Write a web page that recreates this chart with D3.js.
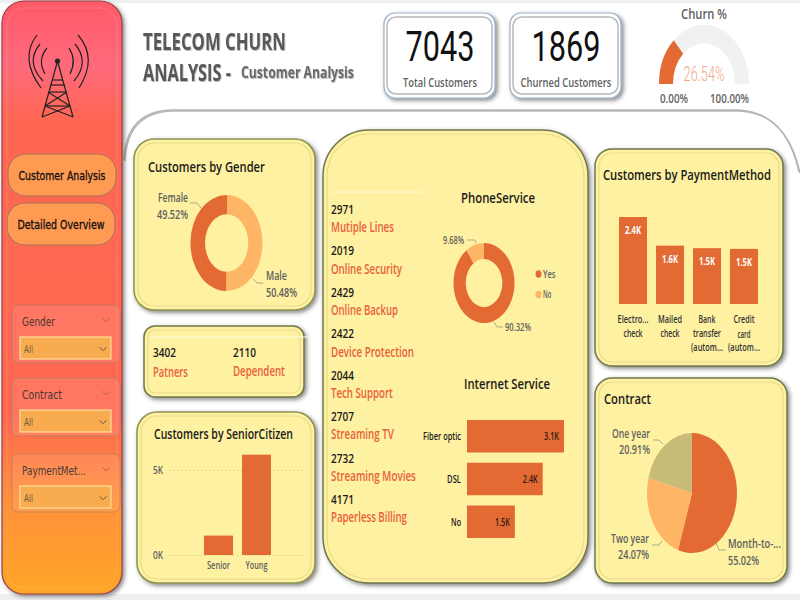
<!DOCTYPE html>
<html>
<head>
<meta charset="utf-8">
<script src="https://cdn.jsdelivr.net/npm/d3@7"></script>
<style>
    html, body { margin: 0; padding: 0; background: #fff; }
    svg { display: block; }
    text { font-family: "Open Sans", "Noto Sans", sans-serif; }
</style>
</head>
<body>
<div id="chart"></div>
<script>
// chart values
var genderNames = ["Male", "Female"];
var genderShare = [50.48, 49.52];

var seniorNames = ["Senior", "Young"];
var seniorCounts = [1142, 5901];
var seniorTicks = [0, 5000];

var serviceNames = ["Mutiple Lines", "Online Security", "Online Backup", "Device Protection", "Tech Support", "Streaming TV", "Streaming Movies", "Paperless Billing"];
var serviceCounts = [2971, 2019, 2429, 2422, 2044, 2707, 2732, 4171];

var phoneNames = ["Yes", "No"];
var phoneShare = [90.32, 9.68];

var internetNames = ["Fiber optic", "DSL", "No"];
var internetCounts = [3100, 2420, 1530];

var paymentLabels = [["Electro...", "check"], ["Mailed", "check"], ["Bank", "transfer", "(autom..."], ["Credit", "card", "(autom..."]];
var paymentCounts = [2400, 1610, 1540, 1520];

var contractNames = ["Month-to-...", "Two year", "One year"];
var contractShare = [55.02, 24.07, 20.91];

var churnPct = 26.54;
var slicerNames = ["Gender", "Contract", "PaymentMet..."];

// how wide the squeezed texts are in the picture
var serviceWidths = [63, 71, 67, 83, 62, 63, 85, 76];
var paymentWidths = [[31, 19], [24, 19], [17, 28, 32], [21, 13, 32]];
var internetWidths = [38, 14, 10];
var seniorWidths = [23, 22];

var ORANGE = "#e46a33", LIGHT = "#ffb566", KHAKI = "#c8ba77", YELLOW = "#fef1a1";
var GREY = "#5f5f5f", RED = "#e9603c", DARK = "#1a1a1a";
var kFmt = v => (v / 1000).toFixed(1) + "K";
var pctFmt = v => v.toFixed(2) + "%";

var svg = d3.select("#chart").append("svg").attr("width", 800).attr("height", 600);
var defs = svg.append("defs");

var side = defs.append("linearGradient").attr("id", "side").attr("x1", 0).attr("x2", 0).attr("y1", 0).attr("y2", 1);
[[0, "#ff5a68"], [0.11, "#ff6a7c"], [0.2, "#ff6652"], [0.7, "#ff6850"], [0.84, "#ff8f3a"], [1, "#ffa626"]].forEach(s => {
    side.append("stop").attr("offset", s[0]).attr("stop-color", s[1]);
});

var shadow = defs.append("filter").attr("id", "shadow").attr("x", "-10%").attr("y", "-10%").attr("width", "125%").attr("height", "125%");
shadow.append("feDropShadow").attr("dx", 2).attr("dy", 2).attr("stdDeviation", 2).attr("flood-color", "#444").attr("flood-opacity", 0.65);
var soft = defs.append("filter").attr("id", "soft");
soft.append("feDropShadow").attr("dx", 1).attr("dy", 1).attr("stdDeviation", 0.7).attr("flood-color", "#999").attr("flood-opacity", 0.7);

// the picture is squeezed sideways, so texts are scaled to the width they have there
function squeeze(t, x, y, w) {
    var s = w / t.node().getComputedTextLength();
    t.attr("x", 0).attr("y", 0).attr("dy", null).attr("transform", `translate(${x},${y}) scale(${s},1)`);
}

function label(x, y, str, size, color, o) {
    o = o || {};
    var t = svg.append("text").attr("x", x).attr("y", y).text(str)
        .attr("font-size", size).attr("fill", color)
        .attr("text-anchor", o.anchor || "start")
        .attr("dominant-baseline", "central")
        .attr("font-weight", o.weight || 400);
    if (o.family) t.style("font-family", o.family);
    if (o.filter) t.attr("filter", o.filter);
    if (o.w) squeeze(t, x, y, o.w);
    return t;
}

function axisText(axis, size, color, widths) {
    axis.selectAll("text").attr("fill", color).attr("font-size", size).attr("font-weight", 600)
        .style("font-family", "'Open Sans'")
        .attr("dominant-baseline", "central")
        .each(function (d, i) {
            var t = d3.select(this);
            var x = +t.attr("x") || 0, y = +t.attr("y") || 0;
            if (axis.attr("data-side") == "bottom") y = y + size / 2;
            squeeze(t, x, y, widths[i]);
        });
}

function card(x, y, w, h, r, fill, edge, bevel) {
    svg.append("rect").attr("x", x).attr("y", y).attr("width", w).attr("height", h).attr("rx", r).attr("ry", r)
        .attr("fill", fill).attr("stroke", edge).attr("stroke-width", 1.5).attr("filter", "url(#shadow)");
    svg.append("rect").attr("x", x + 4).attr("y", y + 4).attr("width", w - 8).attr("height", h - 8).attr("rx", Math.max(r - 4, 2)).attr("ry", Math.max(r - 4, 2))
        .attr("fill", "none").attr("stroke", bevel).attr("stroke-width", 1.2);
}

function leader(pts) {
    svg.append("path").attr("d", d3.line()(pts)).attr("fill", "none").attr("stroke", "#9a9a80").attr("stroke-width", 0.8);
}

function chevron(x, y, w, color) {
    svg.append("path").attr("d", d3.line()([[x - w, y - w / 2], [x, y + w / 2], [x + w, y - w / 2]]))
        .attr("fill", "none").attr("stroke", color).attr("stroke-width", 1);
}

// slices squashed into an ellipse like the stretched picture
function slices(cx, cy, rx, ry, inner, values, colors) {
    var pie = d3.pie().sort(null)(values);
    var arc = d3.arc().innerRadius(inner).outerRadius(1);
    svg.append("g").attr("transform", `translate(${cx},${cy}) scale(${rx},${ry})`)
        .selectAll("path").data(pie).join("path")
        .attr("d", arc).attr("fill", (d, i) => colors[i]);
}

// page edges and big frame
svg.append("rect").attr("width", 800).attr("height", 3).attr("fill", "#efefef");
svg.append("rect").attr("y", 594).attr("width", 800).attr("height", 6).attr("fill", "#efefef");
svg.append("path").attr("d", "M124,160 Q126,111 172,110 H738 Q786,112 799,172")
    .attr("fill", "none").attr("stroke", "#b5b5b5").attr("stroke-width", 1.5).attr("filter", "url(#soft)");

// sidebar
svg.append("rect").attr("x", 2).attr("y", 1).attr("width", 120).attr("height", 593).attr("rx", 22)
    .attr("fill", "url(#side)").attr("stroke", "#9c3c46").attr("stroke-width", 1.2).attr("filter", "url(#shadow)");
svg.append("rect").attr("x", 7).attr("y", 8).attr("width", 110).attr("height", 580).attr("rx", 18)
    .attr("fill", "none").attr("stroke", "#ffffff").attr("stroke-opacity", 0.12);

// tower icon
var tower = svg.append("g").attr("fill", "none").attr("stroke", "#222").attr("stroke-width", 1.2);
["M57,63 L42,117", "M58,63 L73,117", "M52,80 H63", "M50,85 H65", "M48,92 L70,106", "M67,92 L45,106", "M49,92 H66", "M46,106 H70", "M42,117 L70,106", "M73,117 L45,106",
 "M37,35 Q19,58 41,88", "M40,44 Q25,62 43,81", "M47,48 Q37,60 45,74",
 "M78,35 Q98,58 79,88", "M75,44 Q90,62 74,81", "M69,48 Q77,60 70,74"].forEach(d => tower.append("path").attr("d", d));
svg.append("circle").attr("cx", 57.5).attr("cy", 61).attr("r", 2.6).attr("fill", "#222");

// nav buttons
[[8, 154, "Customer Analysis", 87], [7, 203, "Detailed Overview", 87]].forEach(b => {
    svg.append("rect").attr("x", b[0]).attr("y", b[1]).attr("width", 108).attr("height", 42).attr("rx", 18)
        .attr("fill", "#ff9a52").attr("stroke", "#a9705a").attr("stroke-width", 1);
    label(b[0] + 54, b[1] + 21, b[2], 13, "#111", { anchor: "middle", w: b[3], family: "'DejaVu Sans'" })
        .attr("stroke", "#111").attr("stroke-width", 0.35);
});

// slicers
slicerNames.forEach((name, i) => {
    var top = [305, 378, 454][i];
    svg.append("rect").attr("x", 12).attr("y", top).attr("width", 108).attr("height", 58).attr("rx", 6)
        .attr("fill", "#ffffff").attr("fill-opacity", 0.1).attr("stroke", "#a8786a").attr("stroke-opacity", 0.6);
    label(22, top + 17, name, 13, "#4a3a35", { w: [33, 40, 64][i], family: "'DejaVu Sans'" });
    chevron(106, top + 15, 3.5, "#a8605a");
    svg.append("rect").attr("x", 20).attr("y", top + 32).attr("width", 91).attr("height", 22)
        .attr("fill", "#f9ab4f").attr("stroke", "#ffdf9f").attr("stroke-width", 1.2);
    label(24, top + 44, "All", 10, "#6b5a40", { w: 9 });
    chevron(103, top + 44, 3.5, "#6b5a40");
});

// header
label(143, 41, "TELECOM CHURN", 24, "#595959", { w: 143, weight: 700, filter: "url(#soft)" });
label(143, 72, "ANALYSIS -", 24, "#595959", { w: 88, weight: 700, filter: "url(#soft)" });
label(241, 72, "Customer Analysis", 16, "#6a6a6a", { w: 113, weight: 700, filter: "url(#soft)" });

// kpi cards
[[384, "7043", "Total Customers", 74], [510, "1869", "Churned Customers", 91]].forEach(k => {
    svg.append("rect").attr("x", k[0]).attr("y", 13).attr("width", 111).attr("height", 85).attr("rx", 11)
        .attr("fill", "#fff").attr("stroke", "#9fb4c8").attr("stroke-width", 1.2).attr("filter", "url(#shadow)");
    svg.append("rect").attr("x", k[0] + 3).attr("y", 17).attr("width", 105).attr("height", 77).attr("rx", 9)
        .attr("fill", "none").attr("stroke", "#b8b8b8").attr("stroke-width", 1.5);
    label(k[0] + 56, 46, k[1], 43, "#111", { anchor: "middle", w: 69, family: "Roboto" });
    label(k[0] + 56, 82, k[2], 13, GREY, { anchor: "middle", w: k[3], weight: 600 });
});

// gauge
var gaugeAngle = d3.scaleLinear().domain([0, 100]).range([-Math.PI / 2, Math.PI / 2]);
var gaugeArc = d3.arc().innerRadius(0.69).outerRadius(1);
var gauge = svg.append("g").attr("transform", "translate(704,84) scale(45,59)");
gauge.append("path").attr("d", gaugeArc({ startAngle: gaugeAngle(0), endAngle: gaugeAngle(100) })).attr("fill", "#f1f1f1");
gauge.append("path").attr("d", gaugeArc({ startAngle: gaugeAngle(0), endAngle: gaugeAngle(churnPct) })).attr("fill", ORANGE);
label(704, 13, "Churn %", 14.5, GREY, { anchor: "middle", w: 46, weight: 600 });
label(704, 74, pctFmt(churnPct), 20, "#f4a586", { anchor: "middle", w: 41, weight: 300, family: "Roboto" });
label(660, 98, pctFmt(0), 12, GREY, { w: 28, weight: 600 });
label(710, 98, pctFmt(100), 12, GREY, { w: 39, weight: 600 });

// gender card
card(134, 139, 181, 171, 20, YELLOW, "#8d9250", "#e8dc8c");
label(148, 166, "Customers by Gender", 15, DARK, { w: 117, weight: 600 });
slices(227, 243, 36, 48, 0.6, genderShare, [LIGHT, ORANGE]);
label(188, 197, genderNames[1], 12, GREY, { anchor: "end", w: 30, weight: 600 });
label(188, 214, pctFmt(genderShare[1]), 12, GREY, { anchor: "end", w: 31, weight: 600 });
leader([[190, 203], [197, 203], [201, 208]]);
label(266, 275, genderNames[0], 12, GREY, { w: 21, weight: 600 });
label(266, 292, pctFmt(genderShare[0]), 12, GREY, { w: 31, weight: 600 });
leader([[253, 279], [257, 283], [263, 283]]);

// partners card
card(144, 326, 160, 71, 11, YELLOW, "#70784a", "#e8dc8c");
svg.append("line").attr("x1", 150).attr("x2", 313).attr("y1", 337).attr("y2", 337).attr("stroke", "#fffbe0");
label(153, 352, "3402", 13, DARK, { w: 23, weight: 600 });
label(153, 371, "Patners", 14, RED, { w: 35, weight: 600 });
label(233, 352, "2110", 13, DARK, { w: 23, weight: 600 });
label(233, 371, "Dependent", 14, RED, { w: 52, weight: 600 });

// senior citizen card
card(137, 412, 178, 171, 20, YELLOW, "#8d9250", "#e8dc8c");
label(154, 433, "Customers by SeniorCitizen", 15, DARK, { w: 139, weight: 600 });
var seniorX = d3.scaleBand().domain(seniorNames).range([204, 271]).paddingInner(0.237);
var seniorY = d3.scaleLinear().domain([0, 5000]).range([555, 470]);
var seniorAxis = svg.append("g").attr("transform", "translate(169,0)")
    .call(d3.axisLeft(seniorY).tickValues(seniorTicks).tickSize(-136).tickPadding(6).tickFormat(d => (d / 1000) + "K"));
seniorAxis.select(".domain").remove();
seniorAxis.selectAll("line").attr("stroke", "#c9c08a").attr("stroke-dasharray", "1 3");
axisText(seniorAxis, 11, GREY, [10, 10]);
svg.selectAll(".senior-bar").data(seniorCounts).join("rect").attr("class", "senior-bar")
    .attr("x", (d, i) => seniorX(seniorNames[i])).attr("width", seniorX.bandwidth())
    .attr("y", d => seniorY(d)).attr("height", d => seniorY(0) - seniorY(d)).attr("fill", ORANGE);
var seniorBottom = svg.append("g").attr("transform", "translate(0,555)").attr("data-side", "bottom")
    .call(d3.axisBottom(seniorX).tickSize(0).tickPadding(5));
seniorBottom.select(".domain").remove();
axisText(seniorBottom, 10.5, GREY, seniorWidths);

// services card
card(323, 130, 265, 453, 46, YELLOW, "#70784a", "#e8dc8c");
svg.append("line").attr("x1", 331).attr("x2", 423).attr("y1", 192).attr("y2", 192).attr("stroke", "#fffbe0");
var serviceY = d3.scalePoint().domain(serviceNames).range([209, 499]);
serviceNames.forEach((name, i) => {
    label(331, serviceY(name), serviceCounts[i], 13, DARK, { w: 23, weight: 600 });
    label(331, serviceY(name) + 18, name, 14, RED, { w: serviceWidths[i], weight: 600 });
});

// phone service
label(498, 197, "PhoneService", 15, DARK, { anchor: "middle", w: 74, weight: 600 });
slices(484, 283, 30.5, 40, 0.6, phoneShare, [ORANGE, LIGHT]);
label(464, 240, pctFmt(phoneShare[1]), 10.5, GREY, { anchor: "end", w: 21, weight: 600 });
leader([[467, 240], [475, 240], [476, 243]]);
label(505, 327, pctFmt(phoneShare[0]), 10.5, GREY, { w: 26, weight: 600 });
leader([[494, 322], [497, 327], [503, 327]]);
var legendColor = d3.scaleOrdinal().domain(phoneNames).range([ORANGE, LIGHT]);
phoneNames.forEach((name, i) => {
    svg.append("ellipse").attr("cx", 538.5).attr("cy", 274 + i * 20.5).attr("rx", 3).attr("ry", 3.8).attr("fill", legendColor(name));
    label(543, 274 + i * 20.5, name, 11, GREY, { w: name.length * 4.2, weight: 600 });
});

// internet service
label(507, 383, "Internet Service", 15, DARK, { anchor: "middle", w: 86, weight: 600 });
var netY = d3.scaleBand().domain(internetNames).range([420, 538]).paddingInner(0.24);
var netX = d3.scaleLinear().domain([0, 3100]).range([467, 564]);
var netAxis = svg.append("g").attr("transform", "translate(467,0)").call(d3.axisLeft(netY).tickSize(0).tickPadding(6));
netAxis.select(".domain").remove();
axisText(netAxis, 11, DARK, internetWidths);
svg.selectAll(".net-bar").data(internetCounts).join("rect").attr("class", "net-bar")
    .attr("x", netX(0)).attr("y", (d, i) => netY(internetNames[i])).attr("height", netY.bandwidth())
    .attr("width", d => netX(d) - netX(0)).attr("fill", ORANGE);
internetCounts.forEach((v, i) => {
    label(netX(v) - 5, netY(internetNames[i]) + netY.bandwidth() / 2, kFmt(v), 11, "#2a1a10", { anchor: "end", w: 15, weight: 600 });
});

// payment card
card(595, 149, 188, 217, 17, YELLOW, "#70784a", "#e8dc8c");
label(603, 174, "Customers by PaymentMethod", 15, DARK, { w: 168, weight: 600 });
var payX = d3.scaleBand().domain(d3.range(paymentCounts.length)).range([619, 758]).paddingInner(0.243);
var payY = d3.scaleLinear().domain([0, 2400]).range([304, 217]);
svg.selectAll(".pay-bar").data(paymentCounts).join("rect").attr("class", "pay-bar")
    .attr("x", (d, i) => payX(i)).attr("width", payX.bandwidth())
    .attr("y", d => payY(d)).attr("height", d => payY(0) - payY(d)).attr("fill", ORANGE);
paymentCounts.forEach((v, i) => {
    var mid = payX(i) + payX.bandwidth() / 2;
    label(mid, payY(v) + 13, kFmt(v), 11, "#fff", { anchor: "middle", w: 16, weight: 700 });
    paymentLabels[i].forEach((line, j) => {
        label(mid, 320 + j * 13.7, line, 10, "#333", { anchor: "middle", w: paymentWidths[i][j], weight: 600 });
    });
});

// contract card
card(595, 378, 192, 205, 17, YELLOW, "#70784a", "#e8dc8c");
label(604, 398, "Contract", 15, DARK, { w: 47, weight: 600 });
slices(692, 493, 45, 60, 0, contractShare, [ORANGE, LIGHT, KHAKI]);
label(650, 433, contractNames[2], 12, GREY, { anchor: "end", w: 38, weight: 600 });
label(650, 449, pctFmt(contractShare[2]), 12, GREY, { anchor: "end", w: 31, weight: 600 });
leader([[653, 440], [659, 440], [663, 444]]);
label(649, 538, contractNames[1], 12, GREY, { anchor: "end", w: 38, weight: 600 });
label(649, 554, pctFmt(contractShare[1]), 12, GREY, { anchor: "end", w: 31, weight: 600 });
leader([[652, 545], [659, 545], [662, 541]]);
label(728, 544, contractNames[0], 12, GREY, { w: 53, weight: 600 });
label(728, 560, pctFmt(contractShare[0]), 12, GREY, { w: 31, weight: 600 });
leader([[716, 543], [719, 550], [726, 550]]);
</script>
</body>
</html>
